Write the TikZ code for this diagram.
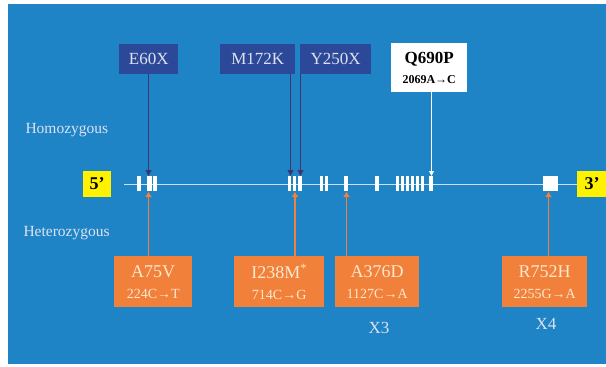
\documentclass[tikz,border=0pt]{standalone}
\usepackage{fontspec}
\setmainfont{Liberation Serif}
\usetikzlibrary{arrows.meta}
\definecolor{bgblue}{RGB}{30,132,198}
\definecolor{navybox}{RGB}{44,72,152}
\definecolor{navyline}{RGB}{62,52,112}
\definecolor{orbox}{RGB}{240,128,58}
\definecolor{ortext}{RGB}{255,232,205}
\definecolor{ltext}{RGB}{222,226,240}
\definecolor{yel}{RGB}{255,242,0}
\definecolor{gline}{RGB}{205,225,245}
\tikzset{
  homobox/.style={fill=navybox,text=ltext,font=\fontsize{17}{17}\selectfont,minimum height=30pt,inner xsep=3pt,anchor=north west},
  hetbox/.style={fill=orbox,text=ortext,align=center,minimum height=51pt,anchor=north west,inner sep=0pt,font=\fontsize{18}{21}\selectfont},
  endbox/.style={fill=yel,font=\bfseries\fontsize{18}{18}\selectfont,minimum width=28pt,minimum height=26pt,inner sep=0pt},
  downarr/.style={draw=navyline,line width=1pt,-{Triangle[width=6pt,length=6pt]}},
  uparr/.style={draw=orbox,line width=1.2pt,-{Triangle[width=6pt,length=5pt]}},
  lbl/.style={text=ltext,font=\fontsize{15.5}{16}\selectfont,anchor=west}
}
\begin{document}
\begin{tikzpicture}[x=1pt,y=-1pt]
\fill[white] (0,0) rectangle (606,367);
\fill[bgblue] (8,4) rectangle (606,364);
\useasboundingbox (0,0) rectangle (606,367);
% gene line
\draw[gline,line width=0.8pt] (124,184.5) -- (578,184.5);
% exons
\foreach \a/\b in {137/141,147/151.5,152.5/157,288/291,293/296,298/302,320/323,325/328,344/348,375/379,396/398.5,401/403.5,406/408.5,411/413.5,416/418.5,420.5/424,429/433}
  \fill[white] (\a,176) rectangle (\b,191);
\fill[white] (543,176) rectangle (558,191);
% targets
\coordinate (tE) at (148.5,176);
\coordinate (tM) at (290.5,176);
\coordinate (tY) at (300.5,176);
\coordinate (tQ) at (431.5,176);
\coordinate (bA) at (148.5,192);
\coordinate (bI) at (295,192);
\coordinate (bD) at (346.5,192);
\coordinate (bR) at (548.5,192);
% end boxes
\node[endbox] (five) at (97,184) {5’};
\node[endbox,minimum width=30pt] (three) at (592,184) {3’};
% homozygous boxes
\node[homobox,minimum width=59pt] (e60x) at (119,44) {E60X};
\node[homobox,minimum width=75pt] (m172k) at (220,44) {M172K};
\node[homobox,minimum width=71pt] (y250x) at (300,44) {Y250X};
\node[fill=white,anchor=north west,minimum width=76pt,minimum height=49pt,align=center,inner sep=0pt,font=\bfseries\fontsize{17}{20}\selectfont] (q690p) at (391,43)
  {Q690P\\{\fontsize{12}{14}\selectfont 2069A→C}};
\draw[downarr] (e60x.south -| tE) -- (tE);
\draw[downarr] (m172k.south -| tM) -- (tM);
\draw[downarr] (y250x.south -| tY) -- (tY);
\draw[white,line width=0.8pt,-{Triangle[width=5pt,length=5pt]}] (q690p.south -| tQ) -- (tQ);
% labels
\node[lbl] (homo) at (22,130) {Homozygous};
\node[lbl] (hetero) at (20,233) {Heterozygous};
% heterozygous boxes
\node[hetbox,minimum width=78pt] (a75v) at (114,256)
  {A75V\\{\fontsize{14}{16}\selectfont 224C→T}};
\node[hetbox,minimum width=90pt] (i238m) at (234,256)
  {I238M\textsuperscript{*}\\{\fontsize{14}{16}\selectfont 714C→G}};
\node[hetbox,minimum width=84pt] (a376d) at (335,256)
  {A376D\\{\fontsize{14}{16}\selectfont 1127C→A}};
\node[hetbox,minimum width=85pt] (r752h) at (502,256)
  {R752H\\{\fontsize{14}{16}\selectfont 2255G→A}};
\draw[uparr] (a75v.north -| bA) -- (bA);
\draw[uparr] (i238m.north -| bI) -- (bI);
\draw[uparr] (a376d.north -| bD) -- (bD);
\draw[uparr] (r752h.north -| bR) -- (bR);
\node[text=ltext,font=\fontsize{17}{17}\selectfont] (x3) at (379,328) {X3};
\node[text=ltext,font=\fontsize{17}{17}\selectfont] (x4) at (546,324) {X4};
\end{tikzpicture}
\end{document}
